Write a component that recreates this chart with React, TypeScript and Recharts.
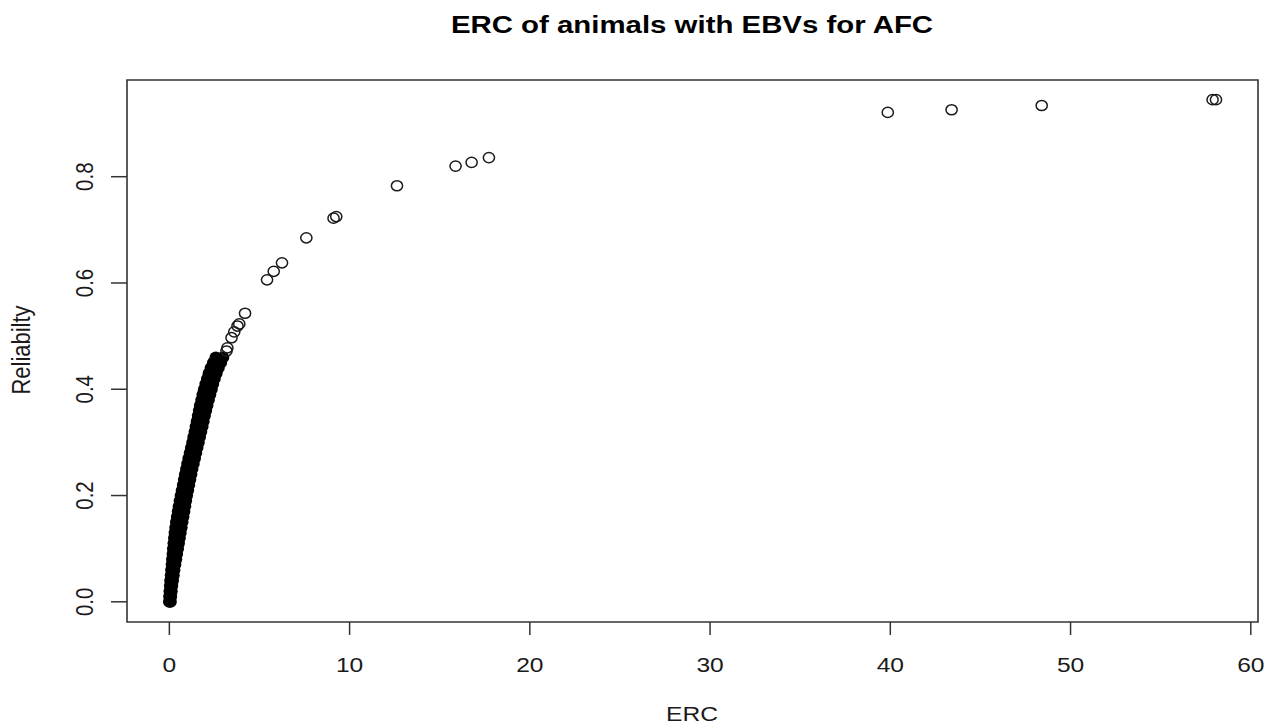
import React from 'react';
import { ScatterChart, Scatter, XAxis, YAxis, ReferenceArea } from 'recharts';

const xTicks = [0, 10, 20, 30, 40, 50, 60];
const yTicks = [0, 0.2, 0.4, 0.6, 0.8];

// bulk of the animals: one reliability level per row, with ERC at the low and high edge of the cloud
const bulkRel = [
  0.0, 0.01, 0.02, 0.03, 0.04, 0.05, 0.06, 0.07, 0.08, 0.09,
  0.1, 0.11, 0.12, 0.13, 0.14, 0.15, 0.16, 0.17, 0.18, 0.19,
  0.2, 0.21, 0.22, 0.23, 0.24, 0.25, 0.26, 0.27, 0.28, 0.29,
  0.3, 0.31, 0.32, 0.33, 0.34, 0.35, 0.36, 0.37, 0.38, 0.39,
  0.4, 0.41, 0.42, 0.43, 0.44, 0.45, 0.46,
];
const bulkErcLow = [
  0.0, 0.01, 0.03, 0.05, 0.07, 0.1, 0.12, 0.15, 0.17, 0.2,
  0.22, 0.25, 0.28, 0.31, 0.35, 0.39, 0.44, 0.49, 0.54, 0.59,
  0.65, 0.71, 0.77, 0.83, 0.89, 0.95, 1.01, 1.08, 1.15, 1.22,
  1.29, 1.35, 1.42, 1.48, 1.54, 1.6, 1.66, 1.72, 1.79, 1.86,
  1.94, 2.02, 2.11, 2.2, 2.31, 2.44, 2.58,
];
const bulkErcHigh = [
  0.06, 0.08, 0.11, 0.14, 0.18, 0.22, 0.26, 0.31, 0.36, 0.41,
  0.46, 0.51, 0.56, 0.61, 0.66, 0.71, 0.76, 0.81, 0.86, 0.91,
  0.96, 1.02, 1.08, 1.14, 1.2, 1.26, 1.33, 1.4, 1.47, 1.54,
  1.61, 1.68, 1.75, 1.82, 1.88, 1.95, 2.02, 2.09, 2.17, 2.25,
  2.33, 2.41, 2.5, 2.6, 2.72, 2.85, 2.97,
];

// individual animals with higher ERC
const tailErc = [
  3.17, 3.22, 3.45, 3.6, 3.78, 3.88, 4.2, 5.42, 5.79, 6.25,
  7.6, 9.11, 9.26, 12.63, 15.88, 16.77, 17.73, 39.86, 43.4, 48.4,
  57.88, 58.07,
];
const tailRel = [
  0.472, 0.478, 0.497, 0.508, 0.519, 0.523, 0.543, 0.606, 0.622, 0.638,
  0.685, 0.722, 0.725, 0.783, 0.82, 0.827, 0.836, 0.921, 0.926, 0.934,
  0.945, 0.945,
];

const bulkData = bulkRel.flatMap((rel, i) => [
  { erc: bulkErcLow[i], rel },
  { erc: bulkErcHigh[i], rel },
]);
const tailData = tailErc.map((erc, i) => ({ erc, rel: tailRel[i] }));

const X_DOMAIN: [number, number] = [-2.35, 60.4];
const Y_DOMAIN: [number, number] = [-0.038, 0.982];

// the plot is drawn slightly wider than tall, so text is stretched horizontally
const SX = 1.2;
const FONT = '"Liberation Sans", Arial, Helvetica, sans-serif';
const INK = '#1a1a1a';
const LINE = '#333';

const XTick = (props: any) => {
  const { x, y, payload } = props;
  return (
    <text
      transform={`translate(${x},${y + 35}) scale(${SX},1)`}
      textAnchor="middle"
      fontSize={20.5}
      fontFamily={FONT}
      fill={INK}
    >
      {payload.value}
    </text>
  );
};

const YTick = (props: any) => {
  const { x, y, payload } = props;
  return (
    <text
      transform={`translate(${x - 16},${y}) scale(${SX},1) rotate(-90)`}
      textAnchor="middle"
      fontSize={20.5}
      fontFamily={FONT}
      fill={INK}
    >
      {Number(payload.value).toFixed(1)}
    </text>
  );
};

const openDot = (p: any) => (
  <ellipse cx={p.cx} cy={p.cy} rx={5.6} ry={5.1} fill="none" stroke={INK} strokeWidth={1.5} />
);

const solidDot = (p: any) => (
  <ellipse cx={p.cx} cy={p.cy} rx={6.4} ry={6.0} fill="#000" stroke="none" />
);

export default function App() {
  return (
    <div style={{ position: 'absolute', left: 0, top: 0, width: 1271, height: 728, background: '#fff' }}>
      <ScatterChart width={1271} height={728} margin={{ top: 80, right: 13, bottom: 0, left: 0 }}>
        <XAxis
          type="number"
          dataKey="erc"
          domain={X_DOMAIN}
          allowDataOverflow
          ticks={xTicks}
          interval={0}
          height={106}
          axisLine={false}
          tickSize={13}
          tickLine={{ stroke: LINE, strokeWidth: 1.5 }}
          tick={<XTick />}
        />
        <YAxis
          type="number"
          dataKey="rel"
          domain={Y_DOMAIN}
          allowDataOverflow
          ticks={yTicks}
          interval={0}
          width={127}
          axisLine={false}
          tickSize={16}
          tickLine={{ stroke: LINE, strokeWidth: 1.5 }}
          tick={<YTick />}
        />
        <ReferenceArea
          x1={X_DOMAIN[0]}
          x2={X_DOMAIN[1]}
          y1={Y_DOMAIN[0]}
          y2={Y_DOMAIN[1]}
          fill="none"
          stroke={LINE}
          strokeWidth={1.6}
          ifOverflow="visible"
        />
        <Scatter data={bulkData} shape={solidDot} isAnimationActive={false} />
        <Scatter data={tailData} shape={openDot} isAnimationActive={false} />
      </ScatterChart>
      <svg
        width={1271}
        height={728}
        style={{ position: 'absolute', left: 0, top: 0, pointerEvents: 'none' }}
      >
        <text
          transform={`translate(692,33) scale(${SX},1)`}
          textAnchor="middle"
          fontSize={24.5}
          fontWeight="bold"
          fontFamily={FONT}
          fill="#000"
        >
          ERC of animals with EBVs for AFC
        </text>
        <text
          transform={`translate(692,721) scale(${SX},1)`}
          textAnchor="middle"
          fontSize={20.5}
          fontFamily={FONT}
          fill={INK}
        >
          ERC
        </text>
        <text
          transform={`translate(30,350) scale(${SX},1) rotate(-90)`}
          textAnchor="middle"
          fontSize={22}
          fontFamily={FONT}
          fill={INK}
        >
          Reliabilty
        </text>
      </svg>
    </div>
  );
}
